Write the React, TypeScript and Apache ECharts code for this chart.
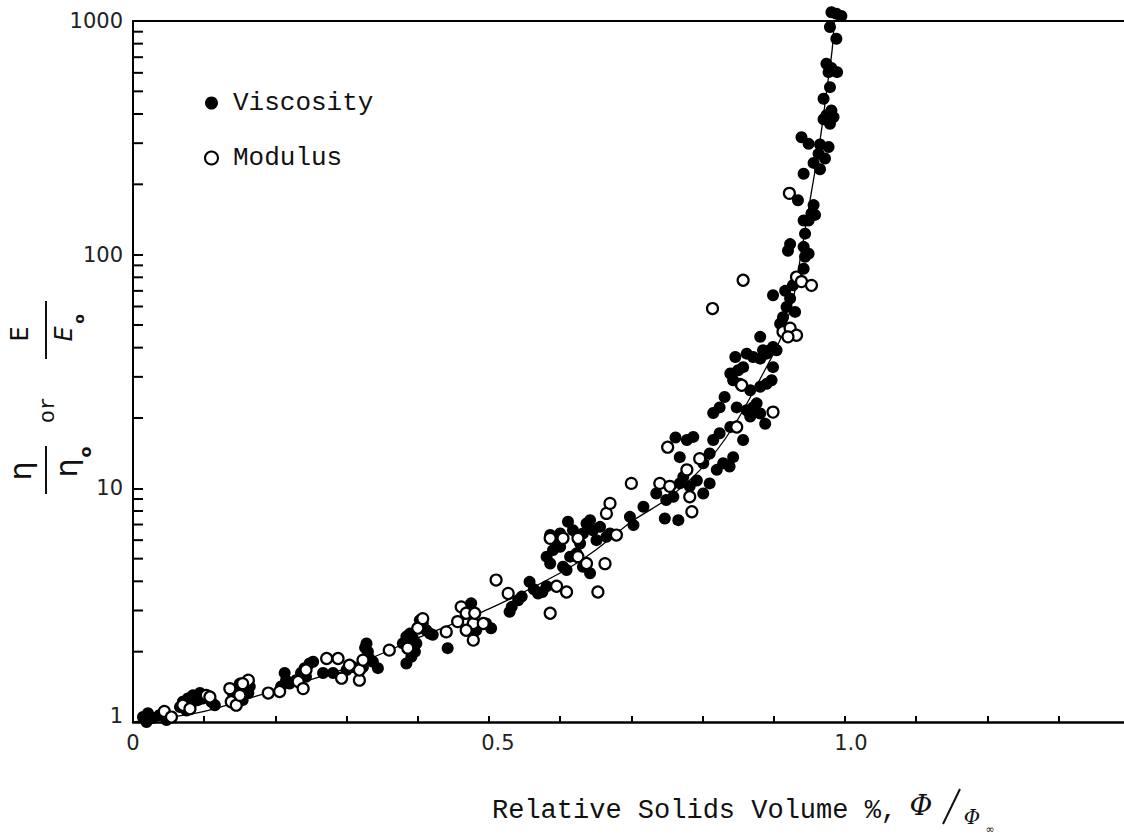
import React, { useEffect, useRef } from "react";
import * as echarts from "echarts";

// Relative viscosity (filled) and relative modulus (open) vs. relative solids volume
const viscosityPoints: [number, number][] = [
  [0.014, 1.05], [0.021, 1.09], [0.028, 1.04], [0.037, 1.07], [0.019, 1.0], [0.047, 1.02],
  [0.066, 1.16], [0.07, 1.22], [0.077, 1.26], [0.084, 1.3], [0.089, 1.28], [0.094, 1.33], [0.082, 1.2],
  [0.098, 1.26], [0.11, 1.22], [0.115, 1.18], [0.075, 1.12], [0.073, 1.2], [0.091, 1.24],
  [0.14, 1.33], [0.147, 1.39], [0.152, 1.3], [0.157, 1.37], [0.162, 1.33], [0.145, 1.26], [0.154, 1.24],
  [0.164, 1.42], [0.15, 1.46],
  [0.213, 1.62], [0.215, 1.51], [0.22, 1.46], [0.208, 1.42], [0.229, 1.51], [0.236, 1.62], [0.241, 1.7],
  [0.248, 1.78], [0.243, 1.56], [0.253, 1.81],
  [0.267, 1.62], [0.281, 1.62], [0.3, 1.67], [0.309, 1.72], [0.328, 2.17], [0.33, 2.0], [0.332, 1.87],
  [0.337, 1.81], [0.323, 1.72], [0.344, 1.7], [0.326, 2.08],
  [0.379, 2.17], [0.384, 2.32], [0.389, 2.39], [0.393, 2.28], [0.398, 2.17], [0.403, 2.73], [0.407, 2.64],
  [0.412, 2.47], [0.417, 2.39], [0.384, 1.78], [0.396, 2.0], [0.391, 1.9], [0.421, 2.36],
  [0.442, 2.07], [0.475, 3.22], [0.482, 2.47], [0.503, 2.52], [0.496, 2.64], [0.529, 2.96],
  [0.532, 3.11], [0.541, 3.32], [0.546, 3.44], [0.557, 3.98], [0.569, 3.55], [0.581, 3.81],
  [0.563, 3.7], [0.575, 3.6],
  [0.581, 5.1], [0.586, 4.77], [0.59, 5.44], [0.595, 6.0], [0.6, 5.62], [0.604, 4.62], [0.609, 4.47],
  [0.611, 7.19], [0.618, 6.62], [0.623, 5.27], [0.628, 5.81], [0.632, 6.41], [0.637, 7.08], [0.642, 7.31],
  [0.646, 6.62], [0.651, 6.0], [0.642, 4.33], [0.632, 4.62], [0.614, 5.1], [0.6, 6.41], [0.586, 6.31],
  [0.656, 6.84], [0.665, 6.2], [0.67, 6.41],
  [0.698, 7.55], [0.703, 6.96], [0.717, 8.34], [0.747, 7.43], [0.766, 7.31], [0.735, 9.51], [0.749, 8.91],
  [0.759, 9.2], [0.768, 10.5], [0.773, 11.2], [0.782, 10.2], [0.792, 10.8], [0.801, 9.51], [0.81, 10.5],
  [0.82, 12.0], [0.829, 12.8], [0.838, 12.4], [0.843, 13.6], [0.801, 12.8], [0.81, 14.1], [0.768, 13.6],
  [0.762, 16.5],
  [0.881, 44.5], [0.846, 36.5], [0.918, 59.7], [0.913, 54.0], [0.909, 50.6], [0.93, 56.9],
  [0.899, 40.3], [0.89, 37.7], [0.904, 39.0],
  [0.778, 16.1], [0.787, 16.6], [0.815, 21.0], [0.824, 22.2], [0.831, 24.6], [0.839, 31.0], [0.843, 29.0],
  [0.85, 32.0], [0.857, 33.0], [0.862, 37.7], [0.871, 36.5], [0.881, 35.9], [0.885, 39.0], [0.895, 39.0],
  [0.853, 28.0], [0.867, 26.3], [0.881, 27.2], [0.89, 28.0], [0.897, 29.0], [0.871, 22.2], [0.881, 20.9],
  [0.867, 20.3], [0.888, 18.9], [0.857, 16.1], [0.815, 16.1], [0.824, 17.2], [0.839, 18.3], [0.848, 22.2],
  [0.862, 21.6], [0.876, 23.1], [0.899, 33.0],
  [0.981, 1090], [0.988, 1074], [0.995, 1050], [0.979, 942], [0.988, 840], [0.974, 656], [0.977, 604],
  [0.989, 604], [0.981, 630], [0.979, 521], [0.97, 465], [0.981, 414], [0.974, 395], [0.97, 380],
  [0.979, 363], [0.984, 388], [0.939, 318], [0.949, 298], [0.965, 296], [0.977, 289], [0.963, 270],
  [0.972, 258], [0.956, 247], [0.965, 232], [0.942, 222], [0.934, 171], [0.956, 163], [0.953, 150],
  [0.942, 140], [0.949, 140], [0.958, 148], [0.944, 123], [0.923, 111], [0.92, 104], [0.942, 108],
  [0.949, 101], [0.944, 98], [0.942, 87], [0.927, 74], [0.899, 67], [0.916, 70], [0.923, 65],
];

const modulusPoints: [number, number][] = [
  [0.044, 1.11], [0.054, 1.05], [0.07, 1.18], [0.103, 1.3], [0.108, 1.28], [0.08, 1.14],
  [0.136, 1.39], [0.138, 1.22], [0.145, 1.18], [0.162, 1.51], [0.154, 1.46], [0.15, 1.3],
  [0.19, 1.33], [0.206, 1.35], [0.232, 1.49], [0.239, 1.39], [0.243, 1.67],
  [0.272, 1.87], [0.288, 1.87], [0.293, 1.54], [0.318, 1.51], [0.318, 1.67], [0.323, 1.84], [0.304, 1.75],
  [0.36, 2.03], [0.386, 2.07], [0.4, 2.52], [0.407, 2.77], [0.44, 2.43],
  [0.461, 3.11], [0.468, 2.92], [0.456, 2.69], [0.478, 2.64], [0.48, 2.92], [0.492, 2.64], [0.478, 2.24],
  [0.468, 2.47], [0.51, 4.05], [0.527, 3.55],
  [0.586, 2.92], [0.595, 3.81], [0.609, 3.6], [0.653, 3.6], [0.663, 4.76], [0.586, 6.11], [0.604, 6.11],
  [0.625, 6.11], [0.625, 5.1], [0.637, 4.77], [0.665, 7.81], [0.67, 8.62], [0.679, 6.31],
  [0.7, 10.5], [0.74, 10.5], [0.754, 10.2], [0.782, 9.2], [0.785, 7.94], [0.796, 13.4], [0.778, 12.0],
  [0.751, 15.0],
  [0.857, 77.7], [0.814, 58.8], [0.855, 27.6], [0.848, 18.3], [0.899, 21.2],
  [0.913, 46.8], [0.923, 48.5], [0.932, 45.2], [0.92, 44.5],
  [0.922, 183], [0.932, 80.2], [0.939, 76.7], [0.953, 73.9],
];

// Fitted curve through both data sets
const curvePhi = [0, 0.1, 0.2, 0.3, 0.4, 0.5, 0.6, 0.65, 0.7, 0.75, 0.8, 0.843, 0.885, 0.91, 0.927, 0.937, 0.951, 0.965, 0.975, 0.982, 0.985];
const curveRatio = [1, 1.11, 1.37, 1.7, 2.29, 3.05, 4.34, 5.45, 7.2, 9.0, 12.3, 18.3, 31, 44, 64, 95, 171, 308, 520, 750, 1000];

const xTickLabels = ["0", "0.5", "1.0"];
const minorTickValues = [
  2, 3, 4, 5, 6, 7, 8, 9,
  20, 30, 40, 50, 60, 70, 80, 90,
  200, 300, 400, 500, 600, 700, 800, 900,
];

const LABEL_FONT = "DejaVu Sans";
const MONO = "Liberation Mono";

export default function App() {
  const ref = useRef<HTMLDivElement>(null);

  useEffect(() => {
    if (!ref.current) return;
    const chart = echarts.init(ref.current, undefined, { renderer: "svg" });

    const fmtX = (v: number) => {
      const s = v.toFixed(1);
      if (Math.abs(v) < 1e-9) return "{z|" + xTickLabels[0] + "}";
      if (s === "0.5") return "{a|" + xTickLabels[1] + "}";
      if (s === "1.0") return "{b|" + xTickLabels[2] + "}";
      return "";
    };

    const labelRich = {
      z: { fontFamily: LABEL_FONT, fontSize: 21, color: "#222" },
      a: { fontFamily: LABEL_FONT, fontSize: 21, color: "#222", padding: [0, 0, 0, 18] },
      b: { fontFamily: LABEL_FONT, fontSize: 21, color: "#222", padding: [0, 0, 0, 12] },
    };

    chart.setOption({
      animation: false,
      backgroundColor: "#fff",
      grid: { left: 133, top: 21, width: 991, height: 701, containLabel: false },
      legend: {
        data: ["Viscosity", "Modulus"],
        orient: "vertical",
        left: 199,
        top: 85,
        icon: "circle",
        itemWidth: 13,
        itemHeight: 13,
        itemGap: 29,
        textStyle: {
          fontFamily: MONO,
          fontSize: 26,
          lineHeight: 26,
          color: "#111",
          padding: [0, 0, 0, 10],
        },
      },
      xAxis: [
        {
          type: "value",
          min: 0,
          max: 1.392,
          interval: 0.1,
          axisLine: { show: true, onZero: false, lineStyle: { color: "#000", width: 2.5 } },
          axisTick: { show: true, inside: true, length: 6, lineStyle: { color: "#000", width: 2 } },
          axisLabel: {
            margin: 10,
            formatter: fmtX,
            hideOverlap: false,
            showMinLabel: true,
            showMaxLabel: false,
            rich: labelRich,
          },
          splitLine: { show: false },
        },
        {
          type: "value",
          position: "top",
          min: 0,
          max: 1.392,
          axisLine: { show: true, onZero: false, lineStyle: { color: "#000", width: 2 } },
          axisTick: { show: false },
          axisLabel: { show: false },
          splitLine: { show: false },
        },
      ],
      yAxis: {
        type: "log",
        logBase: 10,
        min: 1,
        max: 1000,
        axisLine: { show: true, onZero: false, lineStyle: { color: "#000", width: 2 } },
        axisTick: { show: true, inside: true, length: 10, lineStyle: { color: "#000", width: 2 } },
        axisLabel: {
          margin: 10,
          formatter: (v: number) => {
            const r = Math.round(v);
            return r === 1 ? "{one|1}" : "{n|" + r + "}";
          },
          rich: {
            n: { fontFamily: LABEL_FONT, fontSize: 21, color: "#222" },
            one: { fontFamily: LABEL_FONT, fontSize: 21, color: "#222", padding: [0, 0, 12, 0] },
          },
        },
        splitLine: { show: false },
        minorTick: { show: false },
      },
      series: [
        {
          type: "line",
          data: curvePhi.map((p, i) => [p, curveRatio[i]]),
          smooth: 0.3,
          showSymbol: false,
          symbol: "none",
          lineStyle: { color: "#000", width: 1.3 },
          z: 1,
          silent: true,
        },
        {
          type: "custom",
          data: minorTickValues.map((v) => [0, v]),
          renderItem: (_params: any, api: any) => {
            const p = api.coord([0, api.value(1)]);
            return {
              type: "line",
              shape: { x1: p[0], y1: p[1], x2: p[0] + 10, y2: p[1] },
              style: { stroke: "#000", lineWidth: 2 },
            };
          },
          silent: true,
          z: 1,
        },
        {
          name: "Viscosity",
          type: "scatter",
          data: viscosityPoints,
          symbol: "circle",
          symbolSize: 12,
          itemStyle: { color: "#000", opacity: 1 },
          clip: false,
          z: 2,
        },
        {
          name: "Modulus",
          type: "scatter",
          data: modulusPoints,
          symbol: "circle",
          symbolSize: 11,
          itemStyle: { color: "#fff", borderColor: "#000", borderWidth: 2.2, opacity: 1 },
          clip: false,
          z: 3,
        },
      ],
      graphic: [
        // vertical axis title: eta/eta_o  or  E/E_o, read bottom to top
        { type: "text", x: 20, y: 471, rotation: Math.PI / 2, style: { text: "η", font: "30px DejaVu Sans", fill: "#111", align: "center", verticalAlign: "middle" } },
        { type: "line", shape: { x1: 46, y1: 446, x2: 46, y2: 494 }, style: { stroke: "#111", lineWidth: 2 } },
        { type: "text", x: 66, y: 468, rotation: Math.PI / 2, style: { text: "η", font: "30px DejaVu Sans", fill: "#111", align: "center", verticalAlign: "middle" } },
        { type: "text", x: 85, y: 452, rotation: Math.PI / 2, style: { text: "o", font: "bold 16px DejaVu Sans", fill: "#111", align: "center", verticalAlign: "middle" } },
        { type: "text", x: 48, y: 410, rotation: Math.PI / 2, style: { text: "or", font: "22px Liberation Mono", fill: "#111", align: "center", verticalAlign: "middle" } },
        { type: "text", x: 20, y: 334, rotation: Math.PI / 2, style: { text: "E", font: "24px DejaVu Sans", fill: "#111", align: "center", verticalAlign: "middle" } },
        { type: "line", shape: { x1: 46, y1: 301, x2: 46, y2: 359 }, style: { stroke: "#111", lineWidth: 2 } },
        { type: "text", x: 64, y: 334, rotation: Math.PI / 2, style: { text: "E", font: "italic 24px DejaVu Sans", fill: "#111", align: "center", verticalAlign: "middle" } },
        { type: "text", x: 79, y: 319, rotation: Math.PI / 2, style: { text: "o", font: "bold 14px DejaVu Sans", fill: "#111", align: "center", verticalAlign: "middle" } },
        // horizontal axis title
        { type: "text", x: 492, y: 811, style: { text: "Relative Solids Volume %,", font: "27px Liberation Mono", fill: "#111", align: "left", verticalAlign: "middle" } },
        { type: "text", x: 921, y: 805, style: { text: "Φ", font: "italic 28px DejaVu Serif", fill: "#111", align: "center", verticalAlign: "middle" } },
        { type: "line", shape: { x1: 943, y1: 824, x2: 960, y2: 789 }, style: { stroke: "#111", lineWidth: 2 } },
        { type: "text", x: 972, y: 817, style: { text: "Φ", font: "italic 20px DejaVu Serif", fill: "#111", align: "center", verticalAlign: "middle" } },
        { type: "text", x: 990, y: 829, style: { text: "∞", font: "11px DejaVu Sans", fill: "#111", align: "center", verticalAlign: "middle" } },
      ],
    });

    return () => chart.dispose();
  }, []);

  return (
    <div
      ref={ref}
      style={{ position: "fixed", left: 0, top: 0, width: 1124, height: 834, background: "#fff" }}
    />
  );
}
